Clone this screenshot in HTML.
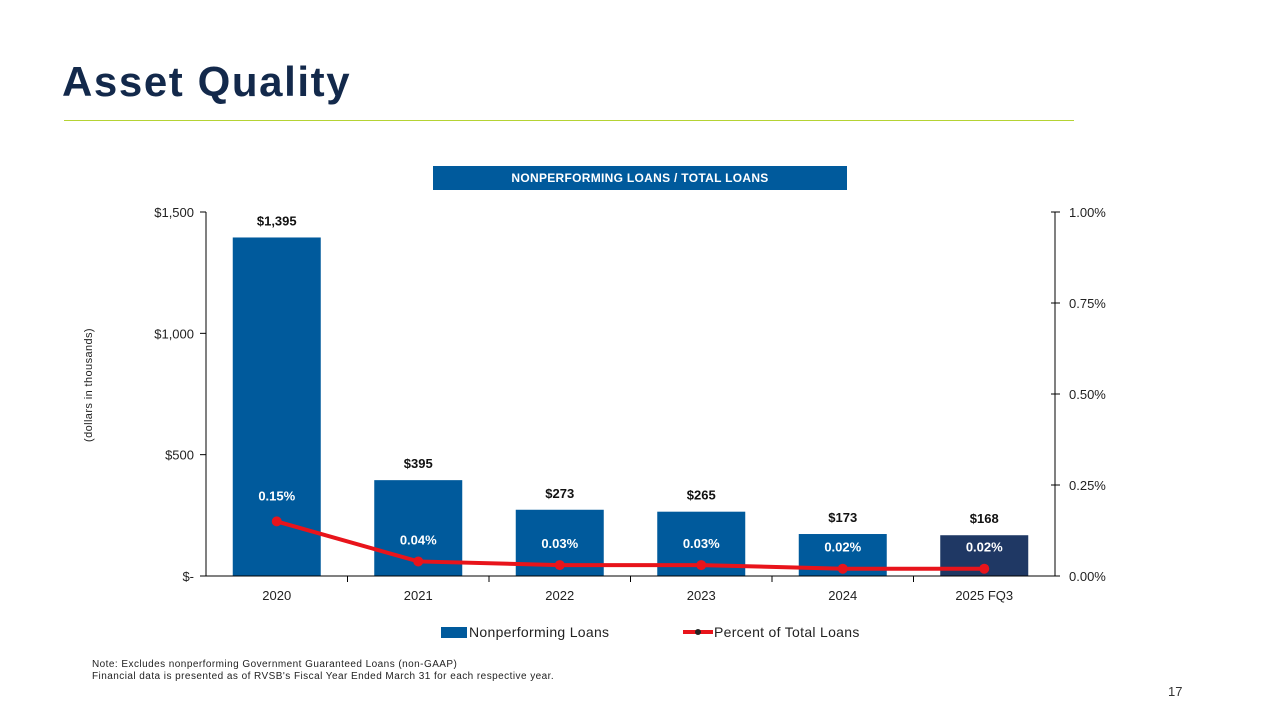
<!DOCTYPE html>
<html><head><meta charset="utf-8"><style>
body{margin:0;width:1280px;height:720px;background:#fff;font-family:"Liberation Sans",sans-serif;position:relative;overflow:hidden}
.t{position:absolute}
</style></head><body>
<div class="t" style="left:62px;top:58px;font-size:42px;font-weight:bold;color:#13294b;letter-spacing:1.6px">Asset Quality</div>
<div class="t" style="left:64px;top:120px;width:1010px;height:1px;background:#b5d334"></div>
<div class="t" style="left:433px;top:166px;width:414px;height:24px;background:#005a9c;color:#fff;font-size:12px;font-weight:bold;text-align:center;line-height:24px;letter-spacing:0.3px">NONPERFORMING LOANS / TOTAL LOANS</div>
<svg class="t" style="left:0;top:0" width="1280" height="720" id="chart"></svg>
<div class="t" style="left:92px;top:659px;font-size:10px;letter-spacing:0.45px;color:#222;line-height:12px">Note: Excludes nonperforming Government Guaranteed Loans (non-GAAP)<br>Financial data is presented as of RVSB's Fiscal Year Ended March 31 for each respective year.</div>
<div class="t" style="left:1168px;top:684px;font-size:13px;color:#333">17</div>
<script>
const categories=["2020","2021","2022","2023","2024","2025 FQ3"];
const loans=[1395,395,273,265,173,168];
const loanLabels=["$1,395","$395","$273","$265","$173","$168"];
const pct=[0.15,0.04,0.03,0.03,0.02,0.02];
const pctLabels=["0.15%","0.04%","0.03%","0.03%","0.02%","0.02%"];
const leftTicks=[0,500,1000,1500];
const leftTickLabels=["$-","$500","$1,000","$1,500"];
const rightTicks=[0,0.25,0.5,0.75,1.0];
const rightTickLabels=["0.00%","0.25%","0.50%","0.75%","1.00%"];
const svg=document.getElementById('chart');const NS="http://www.w3.org/2000/svg";
const X0=206,X1=1055,Y0=576,Y1=212;const cw=(X1-X0)/categories.length;
const yL=v=>Y0-(v/1500)*(Y0-Y1);const yR=v=>Y0-(v/1)*(Y0-Y1);const xc=i=>X0+cw*(i+0.5);
function el(t,a,txt){const e=document.createElementNS(NS,t);for(const k in a)e.setAttribute(k,a[k]);if(txt!=null)e.textContent=txt;svg.appendChild(e);return e;}
const ff='"Liberation Sans",sans-serif';
categories.forEach((c,i)=>{
 const b=el('rect',{x:xc(i)-44,y:yL(loans[i]),width:88,height:Y0-yL(loans[i]),fill:i==5?'#1f3864':'#005a9c'});
 
 
 const l=el('text',{x:xc(i),y:yL(loans[i])-12,'text-anchor':'middle','font-size':13,'font-weight':'bold','font-family':ff,fill:'#111'},loanLabels[i]);
 
 
 const x=el('text',{x:xc(i),y:600,'text-anchor':'middle','font-size':13,'font-family':ff,fill:'#222'},c);
 
 
});
el('line',{x1:X0,y1:Y1,x2:X0,y2:Y0,stroke:'#000'});
el('line',{x1:X0-6,y1:Y0,x2:X1,y2:Y0,stroke:'#000'});
el('line',{x1:X1,y1:Y1,x2:X1,y2:Y0,stroke:'#000'});
for(let i=1;i<categories.length;i++)el('line',{x1:X0+cw*i,y1:Y0,x2:X0+cw*i,y2:Y0+6,stroke:'#000'});
leftTicks.forEach((v,i)=>{el('line',{x1:X0-6,y1:yL(v),x2:X0,y2:yL(v),stroke:'#000'});
 const t=el('text',{x:X0-12,y:yL(v)+5,'text-anchor':'end','font-size':13,'font-family':ff,fill:'#222'},leftTickLabels[i]);
 
 });
rightTicks.forEach((v,i)=>{el('line',{x1:X1-4,y1:yR(v),x2:X1+5,y2:yR(v),stroke:'#000'});
 const t=el('text',{x:X1+14,y:yR(v)+5,'font-size':13,'font-family':ff,fill:'#222'},rightTickLabels[i]);
 
 });
const yt=el('text',{x:0,y:0,transform:'translate(92,385) rotate(-90)','text-anchor':'middle','font-size':11,'font-family':ff,fill:'#222','letter-spacing':0.4},'(dollars in thousands)');


const pts=pct.map((v,i)=>xc(i)+','+yR(v)).join(' ');
const pl=el('polyline',{points:pts,fill:'none',stroke:'#e8141b','stroke-width':4});


pct.forEach((v,i)=>{const m=el('circle',{cx:xc(i),cy:yR(v),r:5,fill:'#e8141b'});
 
 
 const t=el('text',{x:xc(i),y:yR(v)-(i==0?21:17),'text-anchor':'middle','font-size':13,'font-weight':'bold','font-family':ff,fill:'#fff'},pctLabels[i]);
 
 });
const lg1=el('rect',{x:441,y:627,width:26,height:11,fill:'#005a9c'});


const lt1=el('text',{x:469,y:637,'font-size':14,'font-family':ff,fill:'#222','letter-spacing':0.3},'Nonperforming Loans');


const lg2=el('line',{x1:683,y1:632,x2:713,y2:632,stroke:'#e8141b','stroke-width':4});


el('circle',{cx:698,cy:632,r:3,fill:'#222'});
const lt2=el('text',{x:714,y:637,'font-size':14,'font-family':ff,fill:'#222','letter-spacing':0.3},'Percent of Total Loans');


</script>
</body></html>
